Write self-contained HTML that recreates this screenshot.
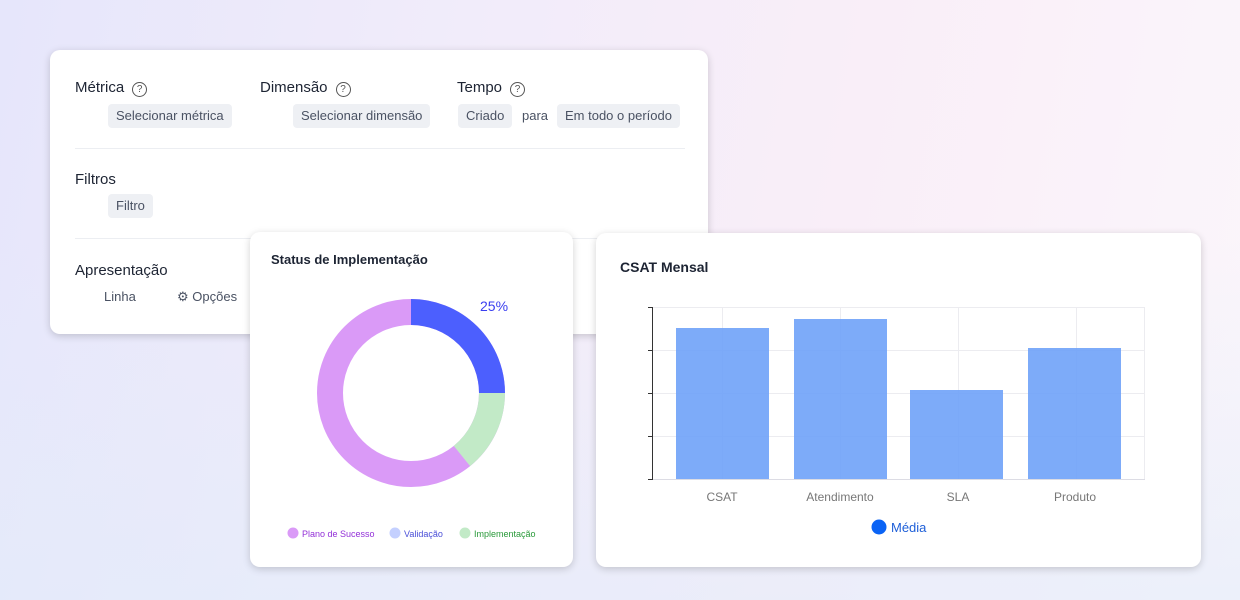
<!DOCTYPE html>
<html><head><meta charset="utf-8"><style>
*{margin:0;padding:0;box-sizing:border-box}
body{width:1240px;height:600px;overflow:hidden;font-family:"Liberation Sans",sans-serif;position:relative;
background:linear-gradient(100deg,#e6e6fb 0%,#f1ecfa 35%,#f9eef8 65%,#fbf6fb 100%);}
.bg2{position:absolute;left:0;top:0;width:1240px;height:600px;background:linear-gradient(180deg,rgba(255,255,255,0) 40%,rgba(226,236,250,.6) 100%);}
.card{position:absolute;background:#fff;border-radius:10px;box-shadow:0 2px 8px rgba(0,0,0,.18)}
.t{position:absolute;font-size:15px;color:#1d2433;white-space:nowrap}
.chip{position:absolute;height:24px;line-height:24px;background:#eef0f4;border-radius:4px;font-size:13px;color:#4a5263;padding:0 8px;white-space:nowrap}
.q{display:inline-block;width:15px;height:15px;border:1.3px solid #555;border-radius:50%;font-size:10px;line-height:13px;text-align:center;color:#555;margin-left:8px;vertical-align:0px}
.s{position:absolute;font-size:13px;color:#4a5263;white-space:nowrap}
</style></head><body>
<div class="bg2"></div>
<div class="card" style="left:50px;top:50px;width:658px;height:284px">
 <div class="t" style="left:25px;top:29px">Métrica<span class="q">?</span></div>
 <div class="t" style="left:210px;top:29px">Dimensão<span class="q">?</span></div>
 <div class="t" style="left:407px;top:29px">Tempo<span class="q">?</span></div>
 <div class="chip" style="left:58px;top:54px">Selecionar métrica</div>
 <div class="chip" style="left:243px;top:54px">Selecionar dimensão</div>
 <div class="chip" style="left:408px;top:54px">Criado</div>
 <div class="s" style="left:472px;top:58px">para</div>
 <div class="chip" style="left:507px;top:54px">Em todo o período</div>
 <div style="position:absolute;left:25px;top:98px;width:610px;height:1px;background:#eceef2"></div>
 <div class="t" style="left:25px;top:121px">Filtros</div>
 <div class="chip" style="left:58px;top:144px">Filtro</div>
 <div style="position:absolute;left:25px;top:188px;width:610px;height:1px;background:#eceef2"></div>
 <div class="t" style="left:25px;top:212px">Apresentação</div>
 <div class="s" style="left:54px;top:239px">Linha</div>
 <div class="s" style="left:127px;top:239px">⚙ Opções</div>
</div>
<div class="card" style="left:250px;top:232px;width:323px;height:335px">
 <div style="position:absolute;left:21px;top:20px;font-size:13px;font-weight:bold;color:#1d2433">Status de Implementação</div>
 <svg width="323" height="335" style="position:absolute;left:0;top:0">
  <g transform="translate(161,161) rotate(-90)">
   <circle r="81" fill="none" stroke="#da9af7" stroke-width="26"/>
   <circle r="81" fill="none" stroke="#4c5ffe" stroke-width="26" stroke-dasharray="127.2 1000"/>
   <circle r="81" fill="none" stroke="#c2eac7" stroke-width="26" stroke-dasharray="0 127.2 72.1 1000"/>
  </g>
  <text x="230" y="79" font-size="14" fill="#3a3ef0" font-family="Liberation Sans">25%</text>
  <circle cx="43" cy="301" r="5.5" fill="#da9af7"/><text x="52" y="305" font-size="9" fill="#9330d8" font-family="Liberation Sans">Plano de Sucesso</text>
  <circle cx="145" cy="301" r="5.5" fill="#c4d0ff"/><text x="154" y="305" font-size="9" fill="#4a4fd8" font-family="Liberation Sans">Validação</text>
  <circle cx="215" cy="301" r="5.5" fill="#c2eac7"/><text x="224" y="305" font-size="9" fill="#2a9a3a" font-family="Liberation Sans">Implementação</text>
 </svg>
</div>
<div class="card" style="left:596px;top:233px;width:605px;height:334px">
 <div style="position:absolute;left:24px;top:26px;font-size:14px;font-weight:bold;color:#1d2433">CSAT Mensal</div>
</div>
<svg width="1240" height="600" style="position:absolute;left:0;top:0">
 <g stroke="#ececf0" stroke-width="1">
  <line x1="652" y1="307.5" x2="1145" y2="307.5"/><line x1="652" y1="350.5" x2="1145" y2="350.5"/>
  <line x1="652" y1="393.5" x2="1145" y2="393.5"/><line x1="652" y1="436.5" x2="1145" y2="436.5"/>
  <line x1="722.5" y1="307" x2="722.5" y2="479"/><line x1="840.5" y1="307" x2="840.5" y2="479"/>
  <line x1="958.5" y1="307" x2="958.5" y2="479"/><line x1="1076.5" y1="307" x2="1076.5" y2="479"/>
  <line x1="1144.5" y1="307" x2="1144.5" y2="479"/>
 </g>
 <g fill="#6fa2f8" fill-opacity=".9">
  <rect x="676" y="328" width="93" height="151"/>
  <rect x="794" y="319" width="93" height="160"/>
  <rect x="910" y="390" width="93" height="89"/>
  <rect x="1028" y="348" width="93" height="131"/>
 </g>
 <line x1="652" y1="479.5" x2="1145" y2="479.5" stroke="#dcdce4"/>
 <g stroke="#333" stroke-width="1">
  <line x1="652.5" y1="307" x2="652.5" y2="480"/>
  <line x1="648" y1="307.5" x2="652" y2="307.5"/><line x1="648" y1="350.5" x2="652" y2="350.5"/>
  <line x1="648" y1="393.5" x2="652" y2="393.5"/><line x1="648" y1="436.5" x2="652" y2="436.5"/>
  <line x1="648" y1="479.5" x2="652" y2="479.5"/>
 </g>
 <g font-family="Liberation Sans" font-size="12" fill="#777" text-anchor="middle">
  <text x="722" y="501">CSAT</text><text x="840" y="501">Atendimento</text>
  <text x="958" y="501">SLA</text><text x="1075" y="501">Produto</text>
 </g>
 <circle cx="879" cy="527" r="7.5" fill="#0a63f5"/>
 <text x="891" y="532" font-family="Liberation Sans" font-size="13" fill="#1e5fd8">Média</text>
</svg>
</body></html>
